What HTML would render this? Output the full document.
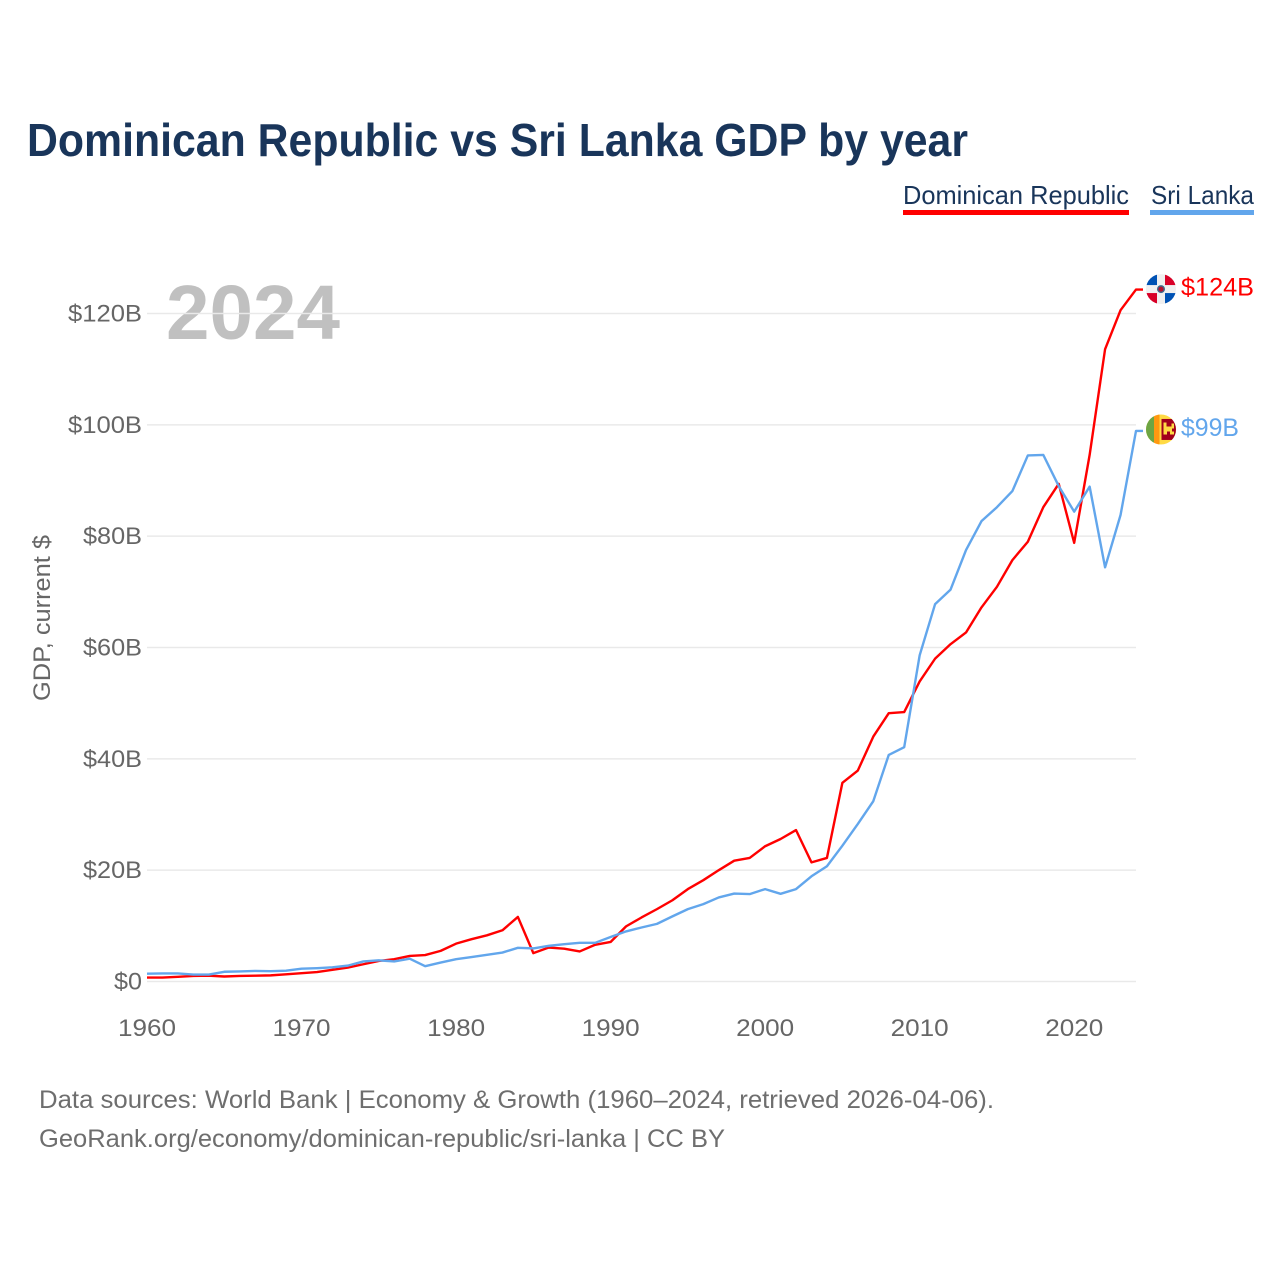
<!DOCTYPE html>
<html lang="en">
<head>
<meta charset="utf-8">
<title>Dominican Republic vs Sri Lanka GDP by year</title>
<style>
html,body{margin:0;padding:0;background:#fff;width:1280px;height:1280px;overflow:hidden}
svg{display:block;font-family:"Liberation Sans",sans-serif}
</style>
</head>
<body>
<svg id="chart" xmlns="http://www.w3.org/2000/svg" width="1280" height="1280" viewBox="0 0 1280 1280">
  <rect x="0" y="0" width="1280" height="1280" fill="#ffffff"/>
  <text x="27" y="156" font-size="46" font-weight="700" fill="#19355a" textLength="941" lengthAdjust="spacingAndGlyphs">Dominican Republic vs Sri Lanka GDP by year</text>

  <g>
    <g>
      <text x="903" y="204" font-size="26" fill="#19355a" textLength="226" lengthAdjust="spacingAndGlyphs">Dominican Republic</text>
      <rect x="903" y="210" width="226" height="5" fill="#ff0000"/>
    </g>
    <g>
      <text x="1151" y="204" font-size="26" fill="#19355a" textLength="103" lengthAdjust="spacingAndGlyphs">Sri Lanka</text>
      <rect x="1150" y="210" width="104" height="5" fill="#62a6ec"/>
    </g>
  </g>

  <text x="166" y="339" font-size="77" font-weight="700" fill="#c0c0c0" textLength="174" lengthAdjust="spacingAndGlyphs">2024</text>

  <g id="grid"></g>
  <g id="yAxis"></g>
  <g id="xAxis"></g>
  <text transform="translate(50,701) rotate(-90)" font-size="24" fill="#666666" textLength="166" lengthAdjust="spacingAndGlyphs">GDP, current $</text>
  <g id="series"></g>

  <defs>
    <clipPath id="flagClip"><circle cx="0" cy="0" r="15"/></clipPath>
  </defs>
  <g id="flagDR">
    <g clip-path="url(#flagClip)">
      <rect x="-15" y="-15" width="30" height="30" fill="#f0f0f0"/>
      <rect x="-15" y="-15" width="11" height="11" fill="#0052b4"/>
      <rect x="4" y="-15" width="11" height="11" fill="#d80027"/>
      <rect x="-15" y="4" width="11" height="11" fill="#d80027"/>
      <rect x="4" y="4" width="11" height="11" fill="#0052b4"/>
      <circle cx="0" cy="0" r="4" fill="#3f6a8c"/>
      <circle cx="0" cy="0" r="2.6" fill="#b3122f"/>
    </g>
  </g>
  <g id="flagLK">
    <g clip-path="url(#flagClip)">
      <rect x="-15" y="-15" width="30" height="30" fill="#ffda44"/>
      <rect x="-15" y="-15" width="8" height="30" fill="#6da544"/>
      <rect x="-7" y="-15" width="5.5" height="30" fill="#ff9811"/>
      <rect x="0.5" y="-10.5" width="15" height="21" fill="#a2001d"/>
      <path d="M2.5 -7h3v4h5v-3h2.5v5h-2v3h2v3h-4v-3h-3v3h-3.5z" fill="#ffda44"/>
    </g>
  </g>
  <text id="labelDR" x="1181" font-size="25" fill="#ff0000" textLength="73" lengthAdjust="spacingAndGlyphs"></text>
  <text id="labelLK" x="1181" font-size="25" fill="#62a6ec" textLength="58" lengthAdjust="spacingAndGlyphs"></text>

  <text x="39" y="1108" font-size="25" fill="#6e6e6e" textLength="955" lengthAdjust="spacingAndGlyphs">Data sources: World Bank | Economy &amp; Growth (1960–2024, retrieved 2026-04-06).</text>
  <text x="39" y="1147" font-size="25" fill="#6e6e6e" textLength="686" lengthAdjust="spacingAndGlyphs">GeoRank.org/economy/dominican-republic/sri-lanka | CC BY</text>
</svg>

<script>
const firstYear = 1960;
const dominicanRepublic = [0.7,0.7,0.85,1.0,1.05,0.9,1.0,1.05,1.1,1.3,1.5,1.7,2.1,2.5,3.1,3.7,4.0,4.6,4.75,5.5,6.8,7.6,8.3,9.2,11.6,5.1,6.1,5.9,5.4,6.6,7.1,9.9,11.5,13.0,14.6,16.6,18.2,20.0,21.7,22.2,24.3,25.6,27.2,21.4,22.2,35.7,37.9,44.0,48.2,48.4,53.9,58.0,60.6,62.7,67.2,70.9,75.7,79.0,85.2,89.4,78.8,94.6,113.6,120.6,124.3];
const sriLanka = [1.4,1.45,1.45,1.25,1.25,1.75,1.8,1.9,1.85,1.95,2.3,2.4,2.55,2.85,3.6,3.8,3.6,4.1,2.75,3.4,4.0,4.4,4.8,5.2,6.05,5.95,6.4,6.7,6.95,6.95,8.0,9.0,9.7,10.35,11.7,13.0,13.9,15.1,15.8,15.7,16.6,15.75,16.6,18.9,20.7,24.4,28.3,32.4,40.7,42.1,58.6,67.8,70.4,77.5,82.7,85.2,88.1,94.5,94.6,89.0,84.4,88.9,74.4,83.8,98.9];
const yTickValues = [0,20,40,60,80,100,120];
const yTickLabels = ["$0","$20B","$40B","$60B","$80B","$100B","$120B"];
const xTickValues = [1960,1970,1980,1990,2000,2010,2020];

const NS = "http://www.w3.org/2000/svg";
function xScale(year){ return 147 + (year - 1960) * (1136 - 147) / 64; }
function yScale(v){ return 981.5 - v * (981.5 - 313.5) / 120; }
function make(tag, attrs, parent){
  const el = document.createElementNS(NS, tag);
  for (const k in attrs) el.setAttribute(k, attrs[k]);
  parent.appendChild(el);
  return el;
}

const grid = document.getElementById("grid");
const yAxis = document.getElementById("yAxis");
const xAxis = document.getElementById("xAxis");
const series = document.getElementById("series");

yTickValues.forEach(function(v, i){
  const line = make("line", {x1:147, x2:1136, y1:yScale(v), y2:yScale(v), stroke:"#e9e9e9", "stroke-width":1.5}, grid);
  
  
  const label = make("text", {x:142, y:yScale(v)+8, "text-anchor":"end", "font-size":24, fill:"#666666"}, yAxis);
  
  
  label.textContent = yTickLabels[i];
  label.setAttribute("textLength", yTickLabels[i].length === 2 ? 28 : (yTickLabels[i].length === 4 ? 59 : 74));
  label.setAttribute("lengthAdjust", "spacingAndGlyphs");
});

xTickValues.forEach(function(year){
  const label = make("text", {x:xScale(year), y:1036, "text-anchor":"middle", "font-size":24, fill:"#666666", textLength:58, lengthAdjust:"spacingAndGlyphs"}, xAxis);
  
  
  label.textContent = String(year);
});

function pathFor(values){
  const pts = values.map(function(v, i){ return xScale(firstYear + i).toFixed(2) + "," + yScale(v).toFixed(2); });
  const lastY = yScale(values[values.length - 1]).toFixed(2);
  pts.push("1143," + lastY);
  return "M" + pts.join("L");
}

const lineLK = make("path", {d:pathFor(sriLanka), fill:"none", stroke:"#62a6ec", "stroke-width":2.4, "stroke-linejoin":"round"}, series);


const lineDR = make("path", {d:pathFor(dominicanRepublic), fill:"none", stroke:"#ff0000", "stroke-width":2.4, "stroke-linejoin":"round"}, series);


series.appendChild(lineLK);

const drLast = dominicanRepublic[dominicanRepublic.length - 1];
const lkLast = sriLanka[sriLanka.length - 1];
document.getElementById("flagDR").setAttribute("transform", "translate(1161," + (yScale(drLast) - 0.5) + ")");
document.getElementById("flagLK").setAttribute("transform", "translate(1161," + (yScale(lkLast) - 1.5) + ")");
const labelDR = document.getElementById("labelDR");
labelDR.setAttribute("y", yScale(drLast) + 6);
labelDR.textContent = "$" + Math.round(drLast) + "B";
const labelLK = document.getElementById("labelLK");
labelLK.setAttribute("y", yScale(lkLast) + 5);
labelLK.textContent = "$" + Math.round(lkLast) + "B";
</script>
</body>
</html>
